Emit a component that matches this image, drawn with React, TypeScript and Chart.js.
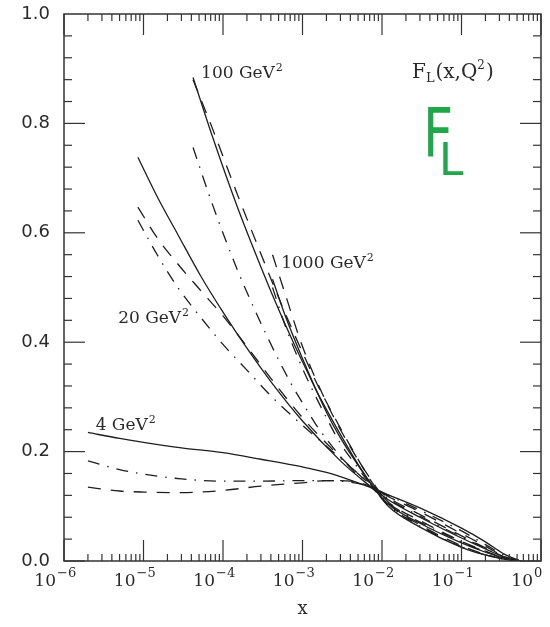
import React, { useEffect, useRef } from "react";
import { Chart, registerables } from "chart.js";

Chart.register(...registerables);

// ---- data (x = Bjorken x, y = F_L) ----
const X_Q4 = [2e-6, 5e-6, 1e-5, 3e-5, 1e-4, 3e-4, 1e-3, 2e-3, 4e-3, 7e-3, 1.2e-2, 3e-2, 0.1, 0.2, 0.35, 0.55];
const Q4_SOLID = [0.235, 0.224, 0.217, 0.207, 0.198, 0.186, 0.172, 0.162, 0.148, 0.135, 0.121, 0.097, 0.06, 0.035, 0.012, 0];
const Q4_DASHDOT = [0.183, 0.167, 0.159, 0.15, 0.146, 0.146, 0.147, 0.147, 0.144, 0.136, 0.12, 0.093, 0.055, 0.03, 0.01, 0];
const Q4_DASHED = [0.135, 0.128, 0.126, 0.125, 0.129, 0.137, 0.143, 0.147, 0.146, 0.137, 0.118, 0.09, 0.05, 0.027, 0.008, 0];

const X_Q20 = [8.5e-6, 1.5e-5, 2.7e-5, 5.2e-5, 1e-4, 2e-4, 4e-4, 1e-3, 3e-3, 6.5e-3, 1.2e-2, 3e-2, 0.1, 0.2, 0.35, 0.55];
const Q20_SOLID = [0.738, 0.665, 0.597, 0.522, 0.455, 0.389, 0.328, 0.256, 0.183, 0.141, 0.112, 0.08, 0.042, 0.022, 0.007, 0];
const Q20_DASHED = [0.647, 0.59, 0.543, 0.495, 0.448, 0.392, 0.334, 0.262, 0.19, 0.145, 0.116, 0.085, 0.046, 0.024, 0.007, 0];
const Q20_DASHDOT = [0.623, 0.559, 0.5, 0.446, 0.396, 0.349, 0.302, 0.248, 0.188, 0.146, 0.114, 0.082, 0.044, 0.023, 0.007, 0];

const X_Q100 = [4.2e-5, 7.4e-5, 1.5e-4, 2.7e-4, 4.8e-4, 7.6e-4, 1.15e-3, 1.5e-3, 2.7e-3, 4.9e-3, 7.8e-3, 1.2e-2, 3e-2, 0.1, 0.2, 0.35, 0.55];
const Q100_SOLID = [0.884, 0.775, 0.649, 0.554, 0.466, 0.401, 0.346, 0.311, 0.243, 0.179, 0.135, 0.104, 0.069, 0.033, 0.016, 0.005, 0];
const Q100_DASHED = [0.88, 0.79, 0.672, 0.578, 0.488, 0.42, 0.362, 0.326, 0.255, 0.188, 0.14, 0.108, 0.074, 0.036, 0.018, 0.005, 0];
const Q100_DASHDOT = [0.756, 0.651, 0.534, 0.449, 0.373, 0.318, 0.275, 0.248, 0.199, 0.157, 0.131, 0.106, 0.071, 0.035, 0.017, 0.005, 0];

const X_Q1000 = [4.2e-4, 6e-4, 1e-3, 2e-3, 3e-3, 5e-3, 8e-3, 1.2e-2, 3e-2, 0.1, 0.2, 0.35, 0.55];
const Q1000_SOLID = [0.515, 0.45, 0.37, 0.272, 0.225, 0.175, 0.133, 0.1, 0.062, 0.025, 0.011, 0.003, 0];
const Q1000_DASHED = [0.56, 0.49, 0.392, 0.29, 0.24, 0.185, 0.14, 0.105, 0.066, 0.028, 0.012, 0.003, 0];
const Q1000_DASHDOT = [0.5, 0.432, 0.352, 0.262, 0.215, 0.17, 0.131, 0.102, 0.064, 0.026, 0.011, 0.003, 0];

// ---- ticks ----
const Y_TICKS = [0, 0.2, 0.4, 0.6, 0.8, 1.0];
const Y_TICK_LABELS = ["0.0", "0.2", "0.4", "0.6", "0.8", "1.0"];
const X_TICKS = [1e-6, 1e-5, 1e-4, 1e-3, 1e-2, 1e-1, 1];
const X_TICK_EXPONENTS = ["\u22126", "\u22125", "\u22124", "\u22123", "\u22122", "\u22121", "0"];

// ---- annotations (anchor in data coordinates) ----
const CURVE_LABELS = [
  { text: "100 GeV", x: 5.3e-5, y: 0.883 },
  { text: "1000 GeV", x: 5.4e-4, y: 0.536 },
  { text: "20 GeV", x: 4.8e-6, y: 0.435 },
  { text: "4 GeV", x: 2.5e-6, y: 0.2395 },
];

const LINE_COLOR = "#1e1e1e";
const DASHED = [13, 10];
const DASHDOT = [12, 8, 1.5, 8];

function pts(xs: number[], ys: number[]) {
  return xs.map((x, i) => ({ x, y: ys[i] }));
}

function ds(label: string, xs: number[], ys: number[], dash: number[]) {
  return {
    label,
    data: pts(xs, ys),
    borderColor: LINE_COLOR,
    borderWidth: 1.3,
    borderDash: dash,
    pointRadius: 0,
    fill: false,
    cubicInterpolationMode: "monotone" as const,
  };
}

const decorPlugin = {
  id: "decor",
  afterDraw(chart: any) {
    const ctx: CanvasRenderingContext2D = chart.ctx;
    const { left, right, top, bottom } = chart.chartArea;
    const xs = chart.scales.x;
    const ys = chart.scales.y;
    ctx.save();
    ctx.setLineDash([]);
    ctx.strokeStyle = "#333";
    ctx.lineWidth = 1.5;
    ctx.strokeRect(left, top, right - left, bottom - top);

    const seg = (x1: number, y1: number, x2: number, y2: number) => {
      ctx.beginPath();
      ctx.moveTo(x1, y1);
      ctx.lineTo(x2, y2);
      ctx.stroke();
    };
    ctx.lineWidth = 1.2;
    for (let i = 0; i < Y_TICKS.length - 1; i++) {
      const a = Y_TICKS[i];
      const b = Y_TICKS[i + 1];
      for (let k = 0; k < 5; k++) {
        const v = a + ((b - a) * k) / 5;
        const py = ys.getPixelForValue(v);
        const len = k === 0 ? 21 : 8;
        seg(left, py, left + len, py);
        seg(right, py, right - len, py);
      }
    }
    for (let i = 0; i < X_TICKS.length; i++) {
      const d = X_TICKS[i];
      for (let m = 1; m <= 9; m++) {
        if (i === X_TICKS.length - 1 && m > 1) break;
        const px = xs.getPixelForValue(d * m);
        const len = m === 1 ? 21 : 7;
        seg(px, bottom, px, bottom - len);
        seg(px, top, px, top + len);
      }
    }

    // y tick labels
    ctx.fillStyle = "#2a2a2a";
    ctx.font = '18px "DejaVu Sans"';
    ctx.textAlign = "right";
    ctx.textBaseline = "middle";
    Y_TICKS.forEach((v, i) => {
      ctx.fillText(Y_TICK_LABELS[i], left - 14, ys.getPixelForValue(v));
    });

    // x tick labels 10^n
    ctx.textBaseline = "alphabetic";
    X_TICKS.forEach((v, i) => {
      const px = xs.getPixelForValue(v);
      ctx.font = '17px "DejaVu Serif"';
      ctx.textAlign = "right";
      ctx.fillText("10", px - 8, bottom + 25);
      ctx.font = '13px "DejaVu Serif"';
      ctx.textAlign = "left";
      ctx.fillText(X_TICK_EXPONENTS[i], px - 7, bottom + 16);
    });

    // axis title
    ctx.font = '18px "DejaVu Serif"';
    ctx.textAlign = "center";
    ctx.fillText("x", (left + right) / 2, bottom + 53);

    // curve labels with superscript 2
    ctx.textAlign = "left";
    CURVE_LABELS.forEach((l) => {
      const px = xs.getPixelForValue(l.x);
      const py = ys.getPixelForValue(l.y);
      ctx.font = '17px "DejaVu Serif"';
      ctx.fillText(l.text, px, py);
      const w = ctx.measureText(l.text).width;
      ctx.font = '11px "DejaVu Serif"';
      ctx.fillText("2", px + w + 1, py - 7);
    });

    // F_L(x,Q^2) title
    {
      let cx = 412;
      const by = 78;
      const part = (t: string, size: number, dy: number) => {
        ctx.font = `${size}px "DejaVu Serif"`;
        ctx.fillText(t, cx, by + dy);
        cx += ctx.measureText(t).width;
      };
      part("F", 20, 0);
      part("L", 13, 4);
      cx += 1;
      part("(x,Q", 20, 0);
      part("2", 12, -9);
      cx += 1;
      part(")", 20, 0);
    }

    // green handwritten F_L
    ctx.fillStyle = "#1fa84a";
    ctx.font = '68px "DejaVu Sans"';
    ctx.save();
    ctx.translate(423, 157);
    ctx.scale(0.77, 1);
    ctx.fillText("F", 0, 0);
    ctx.restore();
    ctx.font = '44px "DejaVu Sans"';
    ctx.fillText("L", 439, 175);

    ctx.restore();
  },
};

export default function App() {
  const ref = useRef<HTMLCanvasElement>(null);
  useEffect(() => {
    const chart = new Chart(ref.current as HTMLCanvasElement, {
      type: "line",
      data: {
        datasets: [
          ds("4 solid", X_Q4, Q4_SOLID, []),
          ds("4 dashdot", X_Q4, Q4_DASHDOT, DASHDOT),
          ds("4 dashed", X_Q4, Q4_DASHED, DASHED),
          ds("20 solid", X_Q20, Q20_SOLID, []),
          ds("20 dashed", X_Q20, Q20_DASHED, DASHED),
          ds("20 dashdot", X_Q20, Q20_DASHDOT, DASHDOT),
          ds("100 solid", X_Q100, Q100_SOLID, []),
          ds("100 dashed", X_Q100, Q100_DASHED, DASHED),
          ds("100 dashdot", X_Q100, Q100_DASHDOT, DASHDOT),
          ds("1000 solid", X_Q1000, Q1000_SOLID, []),
          ds("1000 dashed", X_Q1000, Q1000_DASHED, DASHED),
          ds("1000 dashdot", X_Q1000, Q1000_DASHDOT, DASHDOT),
        ],
      },
      options: {
        responsive: false,
        animation: false,
        devicePixelRatio: 1,
        layout: { padding: { top: 14, right: 9, bottom: 0, left: 0 } },
        plugins: { legend: { display: false }, tooltip: { enabled: false } },
        scales: {
          x: {
            type: "logarithmic",
            min: 1e-6,
            max: 1,
            grid: { display: false },
            border: { display: false },
            ticks: { display: false },
            afterFit: (s: any) => {
              s.height = 66;
            },
          },
          y: {
            type: "linear",
            min: 0,
            max: 1,
            grid: { display: false },
            border: { display: false },
            ticks: { display: false },
            afterFit: (s: any) => {
              s.width = 64;
            },
          },
        },
      },
      plugins: [decorPlugin],
    } as any);
    return () => chart.destroy();
  }, []);
  return (
    <canvas
      ref={ref}
      width={550}
      height={627}
      style={{ position: "absolute", left: 0, top: 0, width: 550, height: 627, display: "block" }}
    />
  );
}
